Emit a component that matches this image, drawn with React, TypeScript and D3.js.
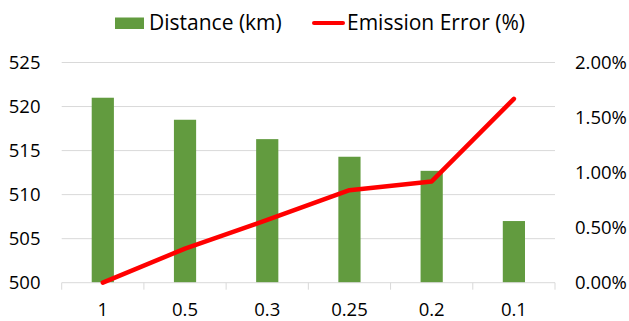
import React from "react";
import * as d3 from "d3";

const categories = ["1", "0.5", "0.3", "0.25", "0.2", "0.1"];
const distanceKm = [521.0, 518.5, 516.3, 514.3, 512.7, 507.0];
const emissionErrorPct = [0.0, 0.31, 0.57, 0.84, 0.92, 1.67];
const leftTicks = [500, 505, 510, 515, 520, 525];
const rightTicks = [0, 0.5, 1.0, 1.5, 2.0];
const seriesNames = ["Distance (km)", "Emission Error (%)"];

const W = 629;
const H = 321;
const FONT = "'Open Sans', sans-serif";

export default function App() {
  const left = 61.7;
  const right = 555;
  const top = 62.5;
  const bottom = 282.7;

  const x = d3.scaleBand<string>().domain(categories).range([left, right]).paddingInner(0.73).paddingOuter(0.365);
  const xc = d3.scaleBand<string>().domain(categories).range([left, right]);
  const yL = d3.scaleLinear().domain([500, 525]).range([bottom, top]);
  const yR = d3.scaleLinear().domain([0, 2]).range([bottom, top]);

  const line = d3
    .line<number>()
    .x((_, i) => (xc(categories[i]) as number) + xc.bandwidth() / 2)
    .y((d) => yR(d));

  const boundaries = categories.map((c) => xc(c) as number).concat([right]);

  return (
    <svg width={W} height={H} style={{ position: "absolute", left: 0, top: 0, background: "#fff" }} fontFamily={FONT}>
      {leftTicks.slice(1).map((t) => (
        <line key={t} x1={left} x2={right} y1={yL(t)} y2={yL(t)} stroke="#d9d9d9" strokeWidth={1} />
      ))}
      {distanceKm.map((v, i) => (
        <rect
          key={i}
          x={x(categories[i])}
          y={yL(v)}
          width={x.bandwidth()}
          height={bottom - yL(v)}
          fill="#629b3f"
        />
      ))}
      <line x1={left} x2={right} y1={bottom} y2={bottom} stroke="#d9d9d9" strokeWidth={1} />
      {boundaries.map((b, i) => (
        <line key={i} x1={b} x2={b} y1={bottom} y2={bottom + 7} stroke="#d9d9d9" strokeWidth={1} />
      ))}
      <path d={line(emissionErrorPct) || ""} fill="none" stroke="#ff0000" strokeWidth={4.5} strokeLinejoin="round" strokeLinecap="round" />
      {leftTicks.map((t) => (
        <text key={t} x={40.5} y={yL(t)} dy="0.36em" textAnchor="end" fontSize={18.5} fill="#000">
          {t}
        </text>
      ))}
      {rightTicks.map((t) => (
        <text key={t} x={575} y={yR(t)} dy="0.36em" textAnchor="start" fontSize={18.5} fill="#000">
          {t.toFixed(2) + "%"}
        </text>
      ))}
      {categories.map((c) => (
        <text key={c} x={(xc(c) as number) + xc.bandwidth() / 2} y={309} dy="0.36em" textAnchor="middle" fontSize={18.5} fill="#000">
          {c}
        </text>
      ))}
      <rect x={115} y={17.5} width={29} height={11.5} fill="#629b3f" />
      <text x={149} y={22.5} dy="0.36em" fontSize={21} fill="#000">
        {seriesNames[0]}
      </text>
      <line x1={314} x2={343} y1={23} y2={23} stroke="#ff0000" strokeWidth={4} strokeLinecap="round" />
      <text x={347} y={22.5} dy="0.36em" fontSize={21} fill="#000">
        {seriesNames[1]}
      </text>
    </svg>
  );
}
